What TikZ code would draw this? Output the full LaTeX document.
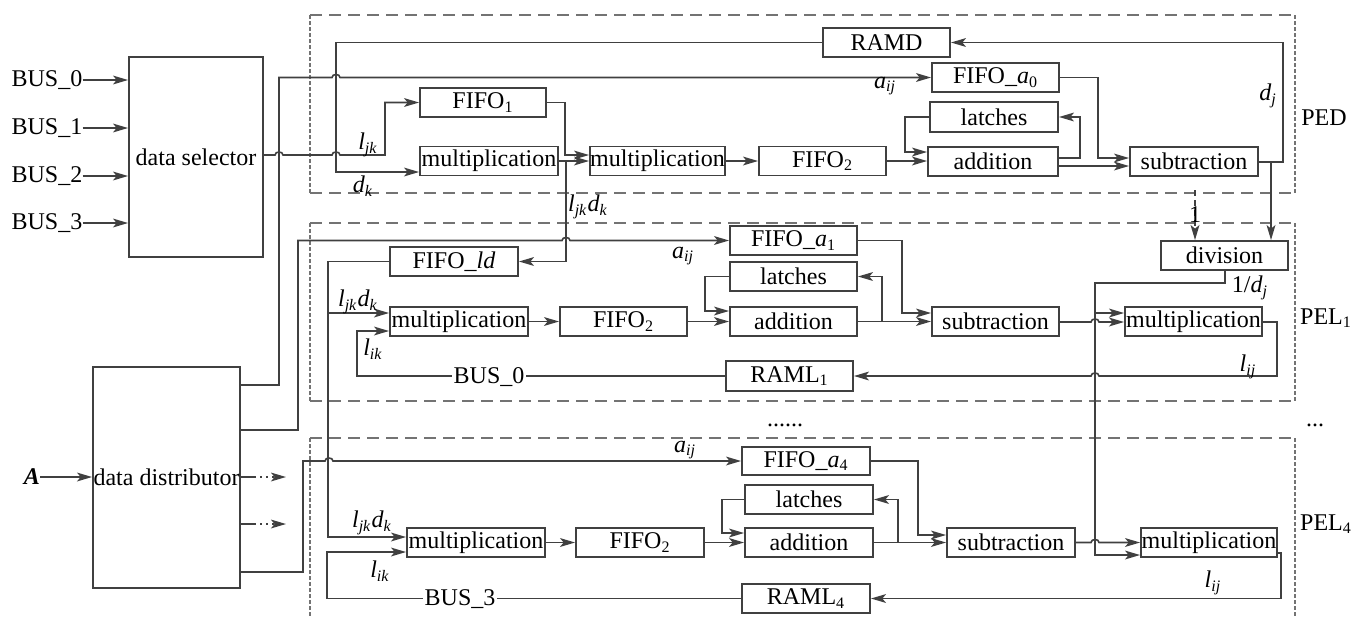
\documentclass[tikz,border=0pt]{standalone}
\usepackage{fontspec}
\setmainfont{Liberation Serif}
\usetikzlibrary{arrows.meta}
\newcommand{\vv}[2]{\textit{#1}\textsubscript{\textit{#2}}}
\begin{document}
\begin{tikzpicture}[x=0.5pt,y=-0.5pt,
  font=\fontsize{12}{14}\selectfont,
  bx/.style={draw=black!75, line width=0.95pt, inner sep=0pt, minimum height=14.5pt},
  wire/.style={draw=black!75, line width=0.8pt},
  arr/.style={wire, -{Stealth[length=7.5pt,width=4.4pt,inset=1.8pt]}},
  lab/.style={inner sep=0pt},
  frameh/.style={draw=black!55, line width=0.75pt, dash pattern=on 6pt off 3.5pt},
  framev/.style={draw=black!55, line width=1.2pt, dash pattern=on 2pt off 1pt},
]
\useasboundingbox (0,0) rectangle (1352,617);

% frames
\draw[frameh] (310,15) -- (1295,15);
\draw[frameh] (310,193) -- (1295,193);
\draw[framev] (310,15) -- (310,193);
\draw[framev] (1295,15) -- (1295,193);
\draw[frameh] (310,223) -- (1295,223);
\draw[frameh] (310,401) -- (1295,401);
\draw[framev] (310,223) -- (310,401);
\draw[framev] (1295,223) -- (1295,401);
\draw[frameh] (310,438) -- (1295,438);
\draw[framev] (310,438) -- (310,617);
\draw[framev] (1295,438) -- (1295,617);

% big boxes
\node[bx, minimum width=67pt, minimum height=100pt] (sel) at (196,157) {data selector};
\node[bx, minimum width=73.5pt, minimum height=110.5pt] (dist) at (166.5,477.5) {data distributor};

% PED
\node[bx, minimum width=63.5pt] (ramd) at (886.5,42.5) {RAMD};
\node[bx, minimum width=63.5pt] (fa0) at (995.5,77.5) {FIFO\_\textit{a}\textsubscript{0}};
\node[bx, minimum width=64pt, minimum height=15pt] (latD) at (994,117) {latches};
\node[bx, minimum width=65pt] (addD) at (993,161.5) {addition};
\node[bx, minimum width=64pt] (subD) at (1194,161.5) {subtraction};
\node[bx, minimum width=63pt] (fifo1) at (483,102.5) {FIFO\textsubscript{1}};
\node[bx, minimum width=69pt] (mulD1) at (489,161) {multiplication};
\node[bx, minimum width=67.5pt] (mulD2) at (657.5,161) {multiplication};
\node[bx, minimum width=63.5pt] (fifo2D) at (822.5,161) {FIFO\textsubscript{2}};

% PEL1
\node[bx, minimum width=64pt] (fald) at (454,261.5) {FIFO\_\textit{ld}};
\node[bx, minimum width=63.5pt] (fa1) at (793.5,240.5) {FIFO\_\textit{a}\textsubscript{1}};
\node[bx, minimum width=63.5pt] (lat1) at (793.5,276.5) {latches};
\node[bx, minimum width=63.5pt] (add1) at (793.5,321.5) {addition};
\node[bx, minimum width=63.5pt] (fifo21) at (623.5,321.5) {FIFO\textsubscript{2}};
\node[bx, minimum width=69pt] (mul1a) at (459,321.5) {multiplication};
\node[bx, minimum width=63.5pt, minimum height=15pt] (raml1) at (789.5,376) {RAML\textsubscript{1}};
\node[bx, minimum width=63.5pt] (sub1) at (995.5,321.5) {subtraction};
\node[bx, minimum width=68.5pt] (mul1b) at (1193.5,321.5) {multiplication};
\node[bx, minimum width=63.5pt] (div) at (1224.5,255.5) {division};

% PEL4
\node[bx, minimum width=64pt, minimum height=14pt] (fa4) at (806,461) {FIFO\_\textit{a}\textsubscript{4}};
\node[bx, minimum width=64pt] (lat4) at (809,499.5) {latches};
\node[bx, minimum width=64pt] (add4) at (809,542.5) {addition};
\node[bx, minimum width=64pt] (fifo24) at (640,542.5) {FIFO\textsubscript{2}};
\node[bx, minimum width=69pt] (mul4a) at (476,542.5) {multiplication};
\node[bx, minimum width=64pt] (raml4) at (806,598.5) {RAML\textsubscript{4}};
\node[bx, minimum width=64pt] (sub4) at (1011,542.5) {subtraction};
\node[bx, minimum width=68pt] (mul4b) at (1209,542.5) {multiplication};

% inputs
\node[lab] (bus0) at (47,80) {BUS\_0};
\node[lab] (bus1) at (47,128) {BUS\_1};
\node[lab] (bus2) at (47,176) {BUS\_2};
\node[lab] (bus3) at (47,223) {BUS\_3};
\draw[arr] (bus0.east) -- (sel.west |- bus0.east);
\draw[arr] (bus1.east) -- (sel.west |- bus1.east);
\draw[arr] (bus2.east) -- (sel.west |- bus2.east);
\draw[arr] (bus3.east) -- (sel.west |- bus3.east);
\node[lab] (A) at (32,477) {\textbf{\textit{A}}};
\draw[arr] (A.east) -- (dist.west |- A.east);

% dotted outputs
\coordinate (dt1) at (286,477);
\coordinate (dt2) at (286,524);
\draw[wire] (dist.east |- dt1) -- (254,477);
\draw[arr, dash pattern=on 1pt off 2pt] (254,477) -- (dt1);
\draw[wire] (dist.east |- dt2) -- (254,524);
\draw[arr, dash pattern=on 1pt off 2pt] (254,524) -- (dt2);

% selector output
\draw[arr] (sel.east |- 0,155) -- (275,155) .. controls (275,151) and (283,151) .. (283,155)
  -- (332,155) .. controls (332,151) and (340,151) .. (340,155) -- (385,155) -- (385,102.5) -- (fifo1.west);

% distributor outputs
\draw[arr] (dist.east |- 0,385) -- (279,385) -- (279,77.5) -- (332,77.5) .. controls (332,73.5) and (340,73.5) .. (340,77.5) -- (fa0.west);
\draw[arr] (dist.east |- 0,430) -- (298,430) -- (298,240.5) -- (562,240.5) .. controls (562,236.5) and (570,236.5) .. (570,240.5) -- (fa1.west);
\draw[arr] (dist.east |- 0,572) -- (303,572) -- (303,461) -- (325,461) .. controls (325,457) and (333,457) .. (333,461) -- (fa4.west);

% PED wires
\draw[arr] (ramd.west) -- (336,42.5) -- (336,172) -- (mulD1.west |- 0,172);
\draw[arr] (fifo1.east) -- (565,102.5) -- (565,155) -- (mulD2.west |- 0,155);
\draw[arr] (mulD1.east) -- (mulD2.west |- mulD1.east);
\draw[arr] (566,161) -- (566,261.5) -- (fald.east);
\draw[arr] (mulD2.east) -- (fifo2D.west);
\draw[arr] (fifo2D.east) -- (addD.west |- fifo2D.east);
\draw[arr] (latD.west) -- (905,117) -- (905,152) -- (addD.west |- 0,152);
\draw[arr] (addD.east |- 0,158) -- (1080,158) -- (1080,117) -- (latD.east);
\draw[arr] (addD.east |- 0,166) -- (subD.west |- 0,166);
\draw[arr] (fa0.east) -- (1098,77.5) -- (1098,158) -- (subD.west |- 0,158);
\draw[arr] (subD.east |- 0,162) -- (1283,162) -- (1283,42.5) -- (ramd.east);
\draw[arr] (1271,162) -- (1271,0 |- div.north);
\draw[arr, dash pattern=on 3pt off 2pt] (1195,190) -- (1195,0 |- div.north);

% division outputs
\draw[arr] (div.south -| 1225,0) -- (1225,283) -- (1095,283) -- (1095,555) -- (mul4b.west |- 0,555);
\draw[arr] (1095,313) -- (mul1b.west |- 0,313);

% PEL1 wires
\draw[arr] (fald.west) -- (328,261.5) -- (328,537) -- (mul4a.west |- 0,537);
\draw[arr] (328,313) -- (mul1a.west |- 0,313);
\draw[arr] (raml1.west) -- (357,376) -- (357,331) -- (mul1a.west |- 0,331);
\node[lab, fill=white, inner xsep=1pt] (bus0b) at (489,377) {BUS\_0};
\draw[arr] (mul1a.east) -- (fifo21.west);
\draw[arr] (fifo21.east) -- (add1.west);
\draw[arr] (lat1.west) -- (705,276.5) -- (705,311) -- (add1.west |- 0,311);
\draw[arr] (add1.east) -- (sub1.west |- add1.east);
\draw[arr] (882,321.5) -- (882,276.5) -- (lat1.east);
\draw[arr] (fa1.east) -- (902,240.5) -- (902,313) -- (sub1.west |- 0,313);
\draw[arr] (sub1.east |- 0,322) -- (1091,322) .. controls (1091,318) and (1099,318) .. (1099,322) -- (mul1b.west |- 0,322);
\draw[arr] (mul1b.east |- 0,322) -- (1277,322) -- (1277,376) -- (1099,376) .. controls (1099,372) and (1091,372) .. (1091,376) -- (raml1.east |- 0,376);

% PEL4 wires
\draw[arr] (fa4.east) -- (918,461) -- (918,535) -- (sub4.west |- 0,535);
\draw[arr] (lat4.west) -- (722,499.5) -- (722,533) -- (add4.west |- 0,533);
\draw[arr] (fifo24.east) -- (add4.west);
\draw[arr] (mul4a.east) -- (fifo24.west);
\draw[arr] (add4.east) -- (sub4.west |- add4.east);
\draw[arr] (898,542.5) -- (898,499.5) -- (lat4.east);
\draw[arr] (sub4.east) -- (1091,542.5) .. controls (1091,538.5) and (1099,538.5) .. (1099,542.5) -- (mul4b.west |- 0,542.5);
\draw[arr] (mul4b.east |- 0,553) -- (1281,553) -- (1281,598.5) -- (raml4.east);
\draw[arr] (raml4.west) -- (327,598.5) -- (327,552) -- (mul4a.west |- 0,552);
\node[lab, fill=white, inner xsep=1pt] (bus3b) at (460,599) {BUS\_3};

% labels
\node[lab] (lljk) at (368,145) {\vv{l}{jk}};
\node[lab] (ldk) at (363,186) {\vv{d}{k}};
\node[lab] (laij0) at (885,86) {\vv{a}{ij}};
\node[lab] (ldj) at (1268,96) {\vv{d}{j}};
\node[lab] (lljkdk0) at (588,207) {\vv{l}{jk}\vv{d}{k}};
\node[lab] (lone) at (1195,215) {1};
\node[lab] (laij1) at (683,256) {\vv{a}{ij}};
\node[lab] (lljkdk1) at (358,302) {\vv{l}{jk}\vv{d}{k}};
\node[lab] (llik1) at (373,349) {\vv{l}{ik}};
\node[lab] (l1dj) at (1250,288) {1/\textit{d}\textsubscript{\textit{j}}};
\node[lab] (llij1) at (1248,367) {\vv{l}{ij}};
\node[lab] (laij4) at (685,450) {\vv{a}{ij}};
\node[lab] (lljkdk4) at (372,523) {\vv{l}{jk}\vv{d}{k}};
\node[lab] (llik4) at (380,571) {\vv{l}{ik}};
\node[lab] (llij4) at (1213,583) {\vv{l}{ij}};
\node[lab] (nped) at (1324,118) {PED};
\node[lab] (npel1) at (1326,318) {PEL\textsubscript{1}};
\node[lab] (npel4) at (1326,524) {PEL\textsubscript{4}};
\node[lab, anchor=base] (dots1) at (785,426) {......};
\node[lab, anchor=base] (dots2) at (1315,426) {...};
\end{tikzpicture}
\end{document}
